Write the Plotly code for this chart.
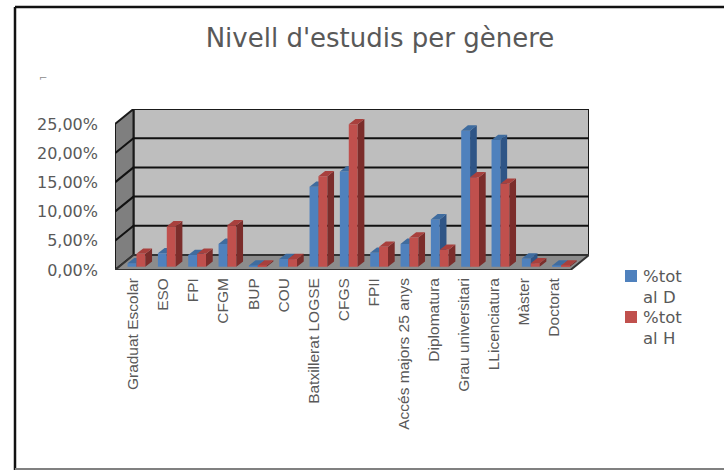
import plotly.graph_objects as go

categories = ["Graduat Escolar", "ESO", "FPI", "CFGM", "BUP", "COU", "Batxillerat LOGSE", "CFGS", "FPII",
              "Accés majors 25 anys", "Diplomatura", "Grau universitari", "LLicenciatura", "Màster", "Doctorat"]
values_d = [0.6, 2.3, 2.0, 3.9, 0.2, 1.3, 13.7, 16.3, 2.4, 3.9, 8.1, 23.3, 21.7, 1.4, 0.2]
values_h = [2.2, 6.9, 2.2, 7.1, 0.2, 1.3, 15.5, 24.4, 3.4, 5.0, 2.9, 15.3, 14.2, 0.6, 0.2]
y_ticks = [0, 5, 10, 15, 20, 25]
y_labels = ["0,00%", "5,00%", "10,00%", "15,00%", "20,00%", "25,00%"]
series_names = ["%tot<br>al D", "%tot<br>al H"]

W, H = 724, 470
PX_L, PX_R, PX_T, PX_B = 115.0, 589.0, 109.0, 270.0
PX_CAT = 30.33
PX_UNIT = 5.84
xr = [-0.5, -0.5 + (PX_R - PX_L) / PX_CAT]
yr = [0, (PX_B - PX_T) / PX_UNIT]
WALL_DX = 18.5 / PX_CAT
WALL_DY = 15.0 / PX_UNIT
BAR_DX = 6.7 / PX_CAT
BAR_DY = 5.3 / PX_UNIT
BAR_W = 8.9 / PX_CAT
SHIFT = 6.3 / PX_CAT
BASE = 3.3 / PX_UNIT
FLOOR_R = xr[1] - WALL_DX
LABEL_STEP = 30.07 / PX_CAT

def fx(px):
    return (px - PX_L) / (PX_R - PX_L)

def fy(px):
    return (PX_B - px) / (PX_B - PX_T)

def poly(pts):
    return "M" + " L".join(f"{x},{y}" for x, y in pts) + " Z"

shapes = []
def add(pts, fill, lw=0, col="#000000"):
    shapes.append(dict(type="path", path=poly(pts), xref="x", yref="y", fillcolor=fill, layer="below",
                       line=dict(width=lw, color=col)))

top = y_ticks[-1]
add([(xr[0] + WALL_DX, WALL_DY), (xr[1], WALL_DY), (xr[1], top + WALL_DY), (xr[0] + WALL_DX, top + WALL_DY)], "#BEBEBE", 2, "#1a1a1a")
add([(xr[0], 0), (xr[0] + WALL_DX, WALL_DY), (xr[0] + WALL_DX, top + WALL_DY), (xr[0], top)], "#7F7F7F", 2, "#1a1a1a")
add([(xr[0], 0), (FLOOR_R, 0), (xr[1], WALL_DY), (xr[0] + WALL_DX, WALL_DY)], "#8C8C8C", 2, "#333333")
for t in y_ticks[1:-1]:
    shapes.append(dict(type="line", xref="x", yref="y", x0=xr[0] + WALL_DX, x1=xr[1], y0=t + WALL_DY, y1=t + WALL_DY,
                       layer="below", line=dict(color="#111111", width=2)))
    shapes.append(dict(type="line", xref="x", yref="y", x0=xr[0], x1=xr[0] + WALL_DX, y0=t, y1=t + WALL_DY,
                       layer="below", line=dict(color="#111111", width=2)))

# Outer chart frame
shapes += [
    dict(type="line", xref="paper", yref="paper", x0=fx(15), x1=fx(724), y0=fy(7), y1=fy(7),
         line=dict(color="#111111", width=2.5)),
    dict(type="line", xref="paper", yref="paper", x0=fx(15), x1=fx(15), y0=fy(7), y1=fy(470),
         line=dict(color="#111111", width=2.5)),
    dict(type="line", xref="paper", yref="paper", x0=fx(15), x1=fx(724), y0=fy(469), y1=fy(469),
         line=dict(color="#808080", width=2)),
]

BLUE, RED = "#4F81BD", "#C0504D"
TXT = "#595959"

# Hand-placed legend: the marker lines up with the first text line, as in the reference
annotations = [dict(text="⌐", xref="paper", yref="paper", x=fx(37), y=fy(70), showarrow=False,
                    font=dict(family="DejaVu Sans", size=10, color="#8c8c8c"))]
for name, col, ypx in zip(series_names, [BLUE, RED], [276, 317]):
    shapes.append(dict(type="rect", xref="paper", yref="paper", x0=fx(625), x1=fx(637), y0=fy(ypx - 6), y1=fy(ypx + 6),
                       fillcolor=col, line_width=0))
    annotations.append(dict(text=name, xref="paper", yref="paper", x=fx(642), y=fy(ypx - 10), xanchor="left",
                            yanchor="top", align="left", showarrow=False, borderpad=0,
                            font=dict(family="DejaVu Sans", size=16.5, color=TXT)))

def faces(values, offset, col_top, col_side, col_front, name, xa, ya):
    xs = [i + SHIFT + offset for i in range(len(values))]
    top_x, top_y, side_x, side_y = [], [], [], []
    for x, v in zip(xs, values):
        x0, x1, b, t = x - BAR_W / 2, x + BAR_W / 2, BASE, BASE + v
        side_x += [x1, x1 + BAR_DX, x1 + BAR_DX, x1, x1, None]
        side_y += [b, b + BAR_DY, t + BAR_DY, t, b, None]
        top_x += [x0, x1, x1 + BAR_DX, x0 + BAR_DX, x0, None]
        top_y += [t, t, t + BAR_DY, t + BAR_DY, t, None]
    return [
        go.Bar(x=xs, y=values, base=BASE, width=BAR_W, marker=dict(color=col_front, line_width=0), name=name,
               xaxis=xa, yaxis=ya, hoverinfo="skip", showlegend=False),
        go.Scatter(x=side_x, y=side_y, fill="toself", fillcolor=col_side, mode="none", showlegend=False,
                   xaxis=xa, yaxis=ya, hoverinfo="skip"),
        go.Scatter(x=top_x, y=top_y, fill="toself", fillcolor=col_top, mode="none", showlegend=False,
                   xaxis=xa, yaxis=ya, hoverinfo="skip"),
    ]

fig = go.Figure()
for tr in faces(values_d, -BAR_W / 2, "#3F6C9F", "#2F5586", BLUE, series_names[0], "x", "y"):
    fig.add_trace(tr)
for tr in faces(values_h, BAR_W / 2, "#A8403D", "#7B2D2B", RED, series_names[1], "x2", "y2"):
    fig.add_trace(tr)

fig.update_layout(
    width=W, height=H, autosize=False,
    margin=dict(l=PX_L, r=W - PX_R, t=PX_T, b=H - PX_B),
    paper_bgcolor="white", plot_bgcolor="rgba(0,0,0,0)",
    barmode="overlay", shapes=shapes, annotations=annotations, showlegend=False,
    title=dict(text="Nivell d'estudis per gènere", x=380 / W, xanchor="center", y=1 - 38 / H, yanchor="middle",
               font=dict(family="DejaVu Sans", size=26, color=TXT)),
    xaxis=dict(range=xr, tickmode="array", tickvals=[0.1 + i * LABEL_STEP for i in range(len(categories))],
               ticktext=categories, tickangle=-90, ticks="", showgrid=False, zeroline=False, showline=False,
               ticklabelstandoff=4, tickfont=dict(family="Liberation Sans", size=15.5, color=TXT)),
    yaxis=dict(range=yr, tickmode="array", tickvals=y_ticks, ticktext=y_labels, ticks="", showgrid=False,
               zeroline=False, showline=False, ticklabelstandoff=16,
               tickfont=dict(family="DejaVu Sans", size=16, color=TXT)),
    xaxis2=dict(range=xr, overlaying="x", visible=False),
    yaxis2=dict(range=yr, overlaying="y", visible=False),
)
fig.write_html("out.html", config=dict(displayModeBar=False), post_script="document.body.style.margin='0';")
